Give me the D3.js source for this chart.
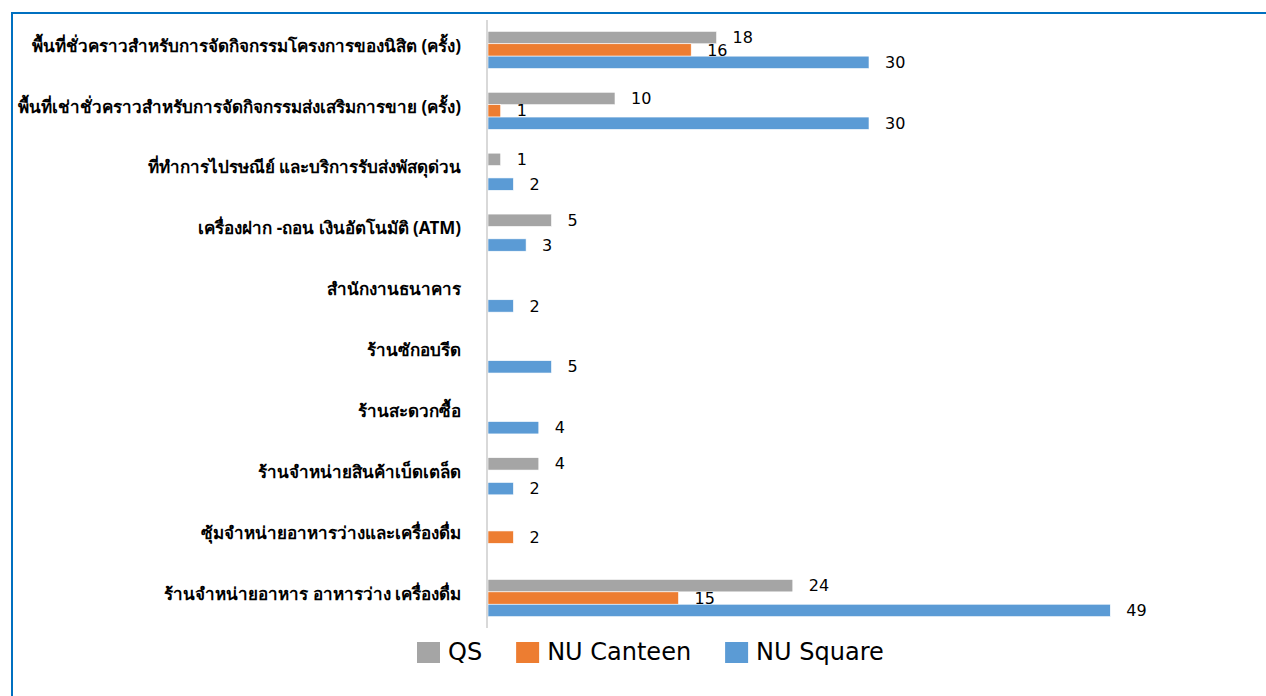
<!DOCTYPE html>
<html>
<head>
<meta charset="utf-8">
<script src="https://cdn.jsdelivr.net/npm/d3@7"></script>
<style>
  body { margin: 0; background: #fff; }
  svg { display: block; }
</style>
</head>
<body>
<div id="chart"></div>
<script>
/* CONSTANTS AND GLOBALS */
const width = 1266;
const height = 696;

/* DATA (top to bottom as drawn) */
const categories = [
  "พื้นที่ชั่วคราวสำหรับการจัดกิจกรรมโครงการของนิสิต (ครั้ง)",
  "พื้นที่เช่าชั่วคราวสำหรับการจัดกิจกรรมส่งเสริมการขาย (ครั้ง)",
  "ที่ทำการไปรษณีย์ และบริการรับส่งพัสดุด่วน",
  "เครื่องฝาก -ถอน เงินอัตโนมัติ (ATM)",
  "สำนักงานธนาคาร",
  "ร้านซักอบรีด",
  "ร้านสะดวกซื้อ",
  "ร้านจำหน่ายสินค้าเบ็ดเตล็ด",
  "ซุ้มจำหน่ายอาหารว่างและเครื่องดื่ม",
  "ร้านจำหน่ายอาหาร อาหารว่าง เครื่องดื่ม"
];
const seriesNames = ["QS", "NU Canteen", "NU Square"];
const qs        = [18, 10, 1, 5, null, null, null, 4, null, 24];
const nuCanteen = [16, 1, null, null, null, null, null, null, 2, 15];
const nuSquare  = [30, 30, 2, 3, 2, 5, 4, 2, null, 49];
const colors = ["#a5a5a5", "#ed7d31", "#5b9bd5"];

const seriesValues = [qs, nuCanteen, nuSquare];
const rows = [];
categories.forEach((c, i) => {
  seriesNames.forEach((s, j) => {
    if (seriesValues[j][i] != null) rows.push({ cat: c, series: s, value: seriesValues[j][i] });
  });
});

/* SCALES */
const xScale = d3.scaleLinear().domain([0, 50]).range([488, 1123]);
const yScale = d3.scaleBand()
  .domain(categories)
  .range([19.5, 628.5])
  .paddingInner(0.39)
  .paddingOuter(0.195);
const ySub = d3.scaleBand()
  .domain(seriesNames)
  .range([0, yScale.bandwidth()]);
const color = d3.scaleOrdinal().domain(seriesNames).range(colors);

/* HTML ELEMENTS */
const svg = d3.select("#chart")
  .append("svg")
  .attr("width", width)
  .attr("height", height)
  .style("background-color", "white");

// outer blue frame (runs off the right and bottom edges)
svg.append("rect")
  .attr("x", 12)
  .attr("y", 13)
  .attr("width", width + 20)
  .attr("height", height + 20)
  .attr("fill", "none")
  .attr("stroke", "#0070c0")
  .attr("stroke-width", 2);

// bars
svg.selectAll(".bar")
  .data(rows)
  .join("rect")
  .attr("class", "bar")
  .attr("x", xScale(0))
  .attr("y", d => yScale(d.cat) + ySub(d.series))
  .attr("width", d => xScale(d.value) - xScale(0))
  .attr("height", ySub.bandwidth())
  .attr("fill", d => color(d.series))
  .attr("stroke", "#fff")
  .attr("stroke-width", 0.6);

// value labels
svg.selectAll(".val")
  .data(rows)
  .join("text")
  .attr("class", "val")
  .attr("x", d => xScale(d.value) + 16)
  .attr("y", d => yScale(d.cat) + ySub(d.series) + ySub.bandwidth() / 2)
  .attr("dy", "0.35em")
  .attr("font-family", "Tahoma, 'DejaVu Sans', sans-serif")
  .attr("font-size", 16)
  .attr("fill", "#000")
  .text(d => d.value);

// vertical axis line
svg.append("line")
  .attr("x1", xScale(0) - 1)
  .attr("x2", xScale(0) - 1)
  .attr("y1", 20)
  .attr("y2", 628)
  .attr("stroke", "#d9d9d9")
  .attr("stroke-width", 2);

// category labels
svg.selectAll(".cat")
  .data(categories)
  .join("text")
  .attr("class", "cat")
  .attr("x", 461)
  .attr("y", d => yScale(d) + yScale.bandwidth() / 2)
  .attr("dy", "0.1em")
  .attr("text-anchor", "end")
  .attr("font-family", "Tahoma, 'Noto Sans', sans-serif")
  .attr("font-size", 17)
  .attr("font-weight", "bold")
  .attr("fill", "#000")
  .text(d => d);

// legend
const legend = svg.append("g").attr("transform", "translate(417,642)");
let lx = 0;
seriesNames.forEach(s => {
  const g = legend.append("g").attr("transform", `translate(${lx},0)`);
  g.append("rect")
    .attr("width", 23)
    .attr("height", 21)
    .attr("fill", color(s));
  const t = g.append("text")
    .attr("x", 31)
    .attr("y", 18)
    .attr("font-family", "Tahoma, 'DejaVu Sans', sans-serif")
    .attr("font-size", 24)
    .attr("fill", "#000")
    .text(s);
  lx += 31 + t.node().getComputedTextLength() + 34;
});
</script>
</body>
</html>
